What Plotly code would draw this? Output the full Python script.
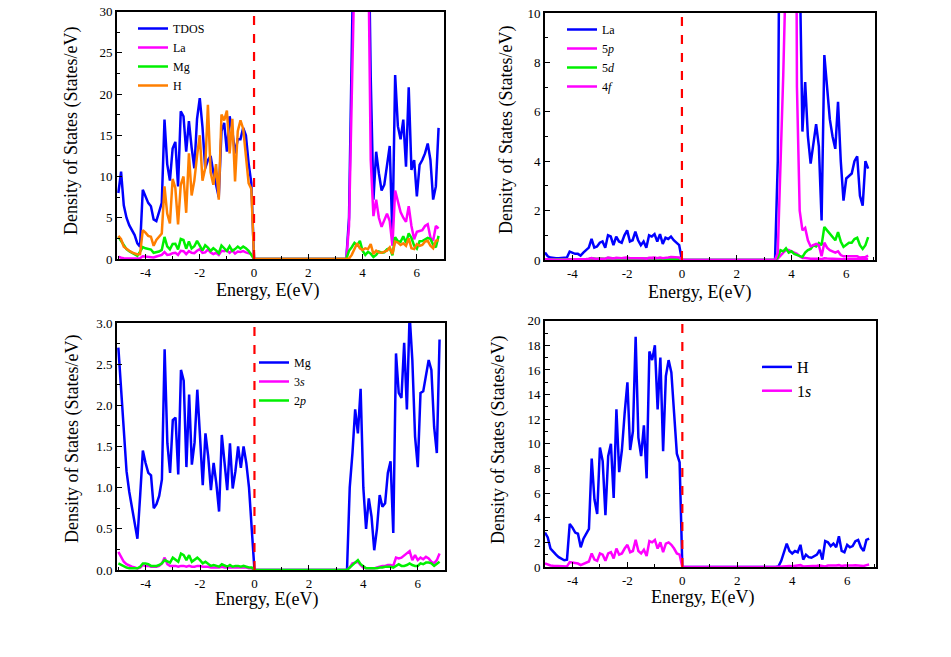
import plotly.graph_objects as go

# ---------------- data ----------------
ENERGY = [-5.0, -4.9, -4.8, -4.7, -4.6, -4.5, -4.4, -4.3, -4.2, -4.1,
          -4.0, -3.9, -3.8, -3.7, -3.6, -3.5, -3.4, -3.3, -3.2, -3.1,
          -3.0, -2.9, -2.8, -2.7, -2.6, -2.5, -2.4, -2.3, -2.2, -2.1,
          -2.0, -1.9, -1.8, -1.7, -1.6, -1.5, -1.4, -1.3, -1.2, -1.1,
          -1.0, -0.9, -0.8, -0.7, -0.6, -0.5, -0.4, -0.3, -0.2, -0.1,
          0.0,
          3.4, 3.5, 3.6, 3.7, 3.8, 3.9, 4.0, 4.1, 4.2, 4.3,
          4.4, 4.5, 4.6, 4.7, 4.8, 4.9, 5.0, 5.1, 5.2, 5.3,
          5.4, 5.5, 5.6, 5.7, 5.8, 5.9, 6.0, 6.1, 6.2, 6.3,
          6.4, 6.5, 6.6, 6.7, 6.8]

TDOS = [8.0, 10.6, 6.5, 5.0, 4.1, 3.4, 2.9, 1.9, 1.5, 8.4,
        7.5, 6.8, 6.4, 4.8, 4.6, 5.8, 6.8, 16.9, 11.5, 9.5,
        13.4, 14.2, 8.8, 17.9, 17.3, 13.0, 16.7, 13.5, 11.0, 17.0,
        19.5, 16.0, 11.0, 12.0, 12.5, 10.5, 9.0, 7.5, 15.5, 16.5,
        13.0, 17.3, 15.5, 12.8, 14.5, 14.5, 15.9, 15.0, 11.6, 9.2,
        0.0,
        0.0, 5.0, 27.0, 45.0, 65.0, 70.0, 65.0, 55.0, 45.0, 22.0,
        7.2, 13.0, 10.4, 8.3, 9.0, 11.2, 13.7, 2.5, 22.3, 16.1,
        14.5, 16.9, 11.2, 20.8, 10.8, 12.0, 7.6, 11.4, 12.0, 12.8,
        14.0, 12.0, 7.2, 8.8, 15.9]

LA = [0.3, 0.15, 0.1, 0.07, 0.07, 0.07, 0.07, 0.07, 0.1, 0.34,
      0.3, 0.25, 0.25, 0.18, 0.3, 0.4, 0.5, 0.85, 0.5, 0.55,
      0.7, 0.75, 0.5, 1.0, 0.95, 0.6, 0.95, 0.75, 0.7, 1.0,
      1.2, 0.75, 0.8, 1.15, 0.8, 0.6, 0.75, 0.5, 1.0, 0.95,
      1.05, 0.75, 1.05, 0.65, 0.9, 0.85, 0.95, 0.8, 0.7, 0.6,
      0.0,
      0.0, 4.0, 20.0, 35.0, 60.0, 65.0, 60.0, 50.0, 40.0, 12.0,
      5.2, 7.2, 5.0, 3.9, 4.7, 5.5, 4.6, 1.6, 8.3, 7.0,
      5.7, 5.0, 4.5, 6.4, 4.0, 2.4, 3.3, 3.4, 3.5, 4.0,
      4.2, 2.6, 2.2, 4.0, 3.7]

LA_5P = [0.03, 0.02, 0.02, 0.01, 0.01, 0.01, 0.01, 0.01, 0.01, 0.03,
         0.03, 0.02, 0.02, 0.02, 0.02, 0.03, 0.03, 0.05, 0.03, 0.03,
         0.04, 0.04, 0.03, 0.05, 0.05, 0.03, 0.05, 0.04, 0.04, 0.05,
         0.06, 0.04, 0.04, 0.06, 0.04, 0.03, 0.04, 0.03, 0.05, 0.05,
         0.05, 0.04, 0.05, 0.03, 0.04, 0.04, 0.05, 0.04, 0.04, 0.03,
         0.0,
         0.0, 0.05, 0.2, 0.3, 0.4, 0.4, 0.35, 0.3, 0.25, 0.15,
         0.08, 0.08, 0.06, 0.05, 0.05, 0.06, 0.05, 0.03, 0.07, 0.06,
         0.05, 0.05, 0.04, 0.05, 0.04, 0.03, 0.03, 0.03, 0.03, 0.04,
         0.04, 0.03, 0.03, 0.04, 0.04]

LA_5D = [0.02, 0.02, 0.01, 0.01, 0.01, 0.01, 0.01, 0.01, 0.01, 0.02,
         0.02, 0.02, 0.02, 0.02, 0.02, 0.03, 0.04, 0.07, 0.04, 0.04,
         0.06, 0.06, 0.04, 0.08, 0.07, 0.05, 0.07, 0.05, 0.05, 0.07,
         0.08, 0.05, 0.05, 0.07, 0.05, 0.04, 0.05, 0.04, 0.07, 0.07,
         0.08, 0.05, 0.07, 0.04, 0.06, 0.05, 0.06, 0.05, 0.05, 0.04,
         0.0,
         0.0, 0.1, 0.4, 0.35, 0.47, 0.3, 0.35, 0.25, 0.2, 0.15,
         0.12, 0.3, 0.4, 0.45, 0.6, 0.55, 0.69, 0.6, 1.34, 1.2,
         1.05, 0.95, 0.8, 1.13, 0.75, 0.53, 0.6, 0.7, 0.7, 0.85,
         0.9, 0.6, 0.45, 0.6, 0.93]

LA_4F = [0.03, 0.02, 0.02, 0.01, 0.01, 0.01, 0.01, 0.01, 0.02, 0.03,
         0.03, 0.03, 0.02, 0.02, 0.03, 0.04, 0.05, 0.08, 0.05, 0.05,
         0.07, 0.07, 0.05, 0.1, 0.09, 0.06, 0.09, 0.07, 0.07, 0.09,
         0.1, 0.07, 0.07, 0.09, 0.07, 0.06, 0.07, 0.05, 0.09, 0.09,
         0.1, 0.07, 0.1, 0.07, 0.1, 0.1, 0.12, 0.11, 0.12, 0.1,
         0.0,
         0.0, 0.3, 3.8, 7.5, 12.0, 40.0, 50.0, 35.0, 7.0, 2.0,
         1.2, 1.3, 0.8, 0.55, 0.6, 0.65, 0.6, 0.15, 0.7, 0.5,
         0.4, 0.35, 0.3, 0.35, 0.2, 0.15, 0.15, 0.15, 0.15, 0.12,
         0.15, 0.1, 0.1, 0.12, 0.18]

MG = [2.7, 2.2, 1.8, 1.2, 0.95, 0.75, 0.6, 0.38, 0.9, 1.45,
      1.3, 1.18, 1.15, 0.75, 0.8, 0.9, 1.1, 2.68, 1.54, 1.18,
      1.82, 1.85, 1.16, 2.43, 2.3, 1.25, 2.13, 1.28, 1.55, 2.19,
      1.62, 1.03, 1.66, 1.38, 0.97, 1.3, 1.05, 0.71, 1.64, 1.32,
      0.97, 1.54, 0.99, 1.2, 1.5, 1.24, 1.5, 1.3, 1.0, 0.5,
      0.0,
      0.0, 1.0, 1.42, 1.95, 1.66, 2.2, 1.0, 0.5, 0.87, 0.65,
      0.24, 0.5, 0.91, 0.77, 0.81, 1.18, 1.32, 0.45, 2.63, 2.15,
      2.09, 2.76, 1.95, 3.1, 2.55, 1.62, 1.25, 2.15, 2.17, 2.35,
      2.55, 2.43, 1.74, 1.42, 2.8]

MG_3S = [0.22, 0.15, 0.1, 0.07, 0.05, 0.04, 0.03, 0.02, 0.03, 0.06,
         0.05, 0.05, 0.04, 0.04, 0.04, 0.05, 0.08, 0.15, 0.07, 0.05,
         0.05, 0.05, 0.04, 0.05, 0.05, 0.04, 0.05, 0.04, 0.04, 0.05,
         0.05, 0.04, 0.04, 0.04, 0.03, 0.03, 0.03, 0.03, 0.04, 0.03,
         0.03, 0.03, 0.03, 0.03, 0.03, 0.03, 0.03, 0.03, 0.02, 0.02,
         0.0,
         0.0, 0.03, 0.08, 0.09, 0.1, 0.06, 0.03, 0.02, 0.02, 0.02,
         0.02, 0.03, 0.04, 0.05, 0.05, 0.06, 0.06, 0.05, 0.15, 0.14,
         0.15, 0.18, 0.2, 0.23, 0.12, 0.18, 0.12, 0.15, 0.13, 0.16,
         0.14, 0.1, 0.08, 0.12, 0.2]

MG_2P = [0.08, 0.06, 0.04, 0.03, 0.02, 0.02, 0.02, 0.02, 0.04, 0.08,
         0.08, 0.07, 0.05, 0.05, 0.05, 0.06, 0.08, 0.12, 0.1, 0.09,
         0.15, 0.13, 0.1, 0.2, 0.18, 0.12, 0.18, 0.1, 0.12, 0.15,
         0.12, 0.08, 0.1, 0.07, 0.05, 0.06, 0.05, 0.04, 0.07, 0.05,
         0.04, 0.06, 0.04, 0.05, 0.05, 0.04, 0.05, 0.04, 0.03, 0.03,
         0.0,
         0.0, 0.03, 0.06, 0.08, 0.12, 0.07, 0.04, 0.02, 0.02, 0.02,
         0.02, 0.02, 0.03, 0.03, 0.04, 0.04, 0.04, 0.03, 0.05, 0.07,
         0.05, 0.05, 0.06, 0.08, 0.06, 0.05, 0.05, 0.08, 0.07, 0.09,
         0.09, 0.08, 0.05, 0.07, 0.1]

H = [2.8, 2.4, 1.5, 1.2, 1.0, 0.8, 0.7, 0.55, 0.6, 3.5,
     3.2, 2.8, 2.7, 1.6, 2.3, 2.7, 3.1, 8.8, 5.5, 4.3,
     9.7, 8.6, 4.2, 9.0, 10.0, 5.6, 12.8, 7.7, 9.5, 12.5,
     15.0, 9.5, 11.0, 18.7, 10.5, 9.0, 11.5, 7.2, 17.5, 16.8,
     18.0, 12.8, 17.0, 9.4, 15.5, 16.8, 15.8, 12.5, 9.2, 8.5,
     0.0,
     0.0, 0.05, 0.5, 1.3, 1.9, 1.3, 1.1, 1.3, 1.2, 1.8,
     0.6, 1.0, 0.8, 0.75, 0.9, 1.0, 1.4, 0.6, 2.1, 2.0,
     1.7, 1.9, 1.6, 2.5, 1.3, 1.2, 1.8, 1.6, 1.7, 2.1,
     2.2, 1.6, 1.3, 2.2, 2.3]

H_1S = [0.3, 0.2, 0.12, 0.1, 0.08, 0.07, 0.06, 0.05, 0.05, 0.4,
        0.35, 0.3, 0.28, 0.15, 0.25, 0.35, 0.45, 1.1, 0.6, 0.5,
        1.1, 1.0, 0.5, 1.1, 1.2, 0.7, 1.5, 1.0, 1.1, 1.5,
        1.8, 1.2, 1.3, 2.2, 1.3, 1.1, 1.4, 0.9, 2.1, 2.0,
        2.2, 1.5, 2.0, 1.2, 1.9, 2.0, 1.8, 1.5, 1.1, 1.0,
        0.0,
        0.0, 0.02, 0.05, 0.08, 0.1, 0.08, 0.06, 0.08, 0.1, 0.15,
        0.05, 0.05, 0.06, 0.06, 0.08, 0.1, 0.12, 0.08, 0.05, 0.12,
        0.1, 0.1, 0.12, 0.15, 0.08, 0.12, 0.1, 0.1, 0.12, 0.15,
        0.12, 0.1, 0.08, 0.15, 0.2]

FERMI = 0.0
X_TICKS = [-4, -2, 0, 2, 4, 6]
X_TICK_LABELS = ["-4", "-2", "0", "2", "4", "6"]
X_TITLE = "Energy, E(eV)"
Y_TITLE = "Density of States (States/eV)"

# ---------------- style ----------------
BLUE, MAGENTA, GREEN, ORANGE, RED = "#0000FF", "#FF00FF", "#00F000", "#FF7F00", "#FF0000"
FONT = "Liberation Serif"
W, HGT = 951, 657

panels = [
    dict(xdom=[117 / W, 444 / W], ydom=[1 - 259 / HGT, 1 - 11.5 / HGT], xr=[-5.05, 7.0],
         yr=[0, 30], dt=5, mdt=2.5, fmt="", legend=dict(x=133 / W, y=1 - 14 / HGT, size=12),
         xt=(267, 291), yt=(72, 131),
         series=[("TDOS", TDOS, BLUE), ("La", LA, MAGENTA), ("Mg", MG, GREEN), ("H", H, ORANGE)]),
    dict(xdom=[545 / W, 875 / W], ydom=[1 - 260 / HGT, 1 - 13 / HGT], xr=[-5.0, 7.05],
         yr=[0, 10], dt=2, mdt=1, fmt="", legend=dict(x=562 / W, y=1 - 15 / HGT, size=12),
         xt=(699, 292), yt=(506, 130),
         series=[("La", LA, BLUE), ("5<i>p</i>", LA_5P, MAGENTA), ("5<i>d</i>", LA_5D, GREEN),
                 ("4<i>f</i>", LA_4F, MAGENTA)]),
    dict(xdom=[117 / W, 445 / W], ydom=[1 - 570 / HGT, 1 - 323 / HGT], xr=[-5.05, 7.0],
         yr=[0, 3], dt=0.5, mdt=0.25, fmt=".1f", legend=dict(x=254 / W, y=1 - 348 / HGT, size=12),
         xt=(266, 599), yt=(72, 439),
         series=[("Mg", MG, BLUE), ("3<i>s</i>", MG_3S, MAGENTA), ("2<i>p</i>", MG_2P, GREEN)]),
    dict(xdom=[545 / W, 876 / W], ydom=[1 - 567 / HGT, 1 - 320.7 / HGT], xr=[-5.0, 7.05],
         yr=[0, 20], dt=2, mdt=1, fmt="", legend=dict(x=757 / W, y=1 - 350 / HGT, size=16),
         xt=(702, 597), yt=(498, 440),
         series=[("H", H, BLUE), ("1<i>s</i>", H_1S, MAGENTA)]),
]

fig = go.Figure()
layout = dict(width=W, height=HGT, margin=dict(l=0, r=0, t=0, b=0),
              paper_bgcolor="white", plot_bgcolor="white",
              font=dict(family=FONT, color="black", size=13), shapes=[], annotations=[])

for i, p in enumerate(panels, start=1):
    sfx = "" if i == 1 else str(i)
    lg = "legend" if i == 1 else "legend%d" % i
    for name, vals, col in p["series"]:
        fig.add_trace(go.Scatter(x=ENERGY, y=vals, mode="lines", name=name,
                                 line=dict(color=col, width=2.5),
                                 xaxis="x" + sfx, yaxis="y" + sfx, legend=lg,
                                 hoverinfo="skip"))
    axis_common = dict(showline=True, linecolor="black", linewidth=1.8, mirror=True,
                       ticks="inside", ticklen=5, tickwidth=1.3, tickcolor="black",
                       showgrid=False, zeroline=False, automargin=False,
                       tickfont=dict(family=FONT, size=13, color="black"))
    layout["xaxis" + sfx] = dict(axis_common, domain=p["xdom"], anchor="y" + sfx,
                                 range=p["xr"], tickmode="array", tickvals=X_TICKS,
                                 ticktext=X_TICK_LABELS,
                                 minor=dict(ticks="inside", ticklen=3, tick0=-5, dtick=1,
                                            tickcolor="black"))
    layout["yaxis" + sfx] = dict(axis_common, domain=p["ydom"], anchor="x" + sfx,
                                 range=p["yr"], tick0=0, dtick=p["dt"], tickformat=p["fmt"],
                                 minor=dict(ticks="inside", ticklen=3, dtick=p["mdt"],
                                            tickcolor="black"))
    L = p["legend"]
    layout[lg] = dict(x=L["x"], y=L["y"], xanchor="left", yanchor="top",
                      bgcolor="rgba(0,0,0,0)", borderwidth=0, tracegroupgap=0,
                      font=dict(family=FONT, size=L["size"], color="black"))
    layout["shapes"].append(dict(type="line", xref="x" + sfx, yref="y" + sfx + " domain",
                                 x0=FERMI, x1=FERMI, y0=0, y1=1,
                                 line=dict(color=RED, width=2.2, dash="dash"), layer="above"))
    layout["annotations"].append(dict(text=X_TITLE, xref="paper", yref="paper",
                                      x=p["xt"][0] / W, y=1 - p["xt"][1] / HGT,
                                      xanchor="center", yanchor="middle", showarrow=False,
                                      font=dict(family=FONT, size=18, color="black")))
    layout["annotations"].append(dict(text=Y_TITLE, xref="paper", yref="paper",
                                      x=p["yt"][0] / W, y=1 - p["yt"][1] / HGT, textangle=-90,
                                      xanchor="center", yanchor="middle", showarrow=False,
                                      font=dict(family=FONT, size=18, color="black")))

layout["showlegend"] = True
fig.update_layout(**layout)
fig.write_html("out.html")
